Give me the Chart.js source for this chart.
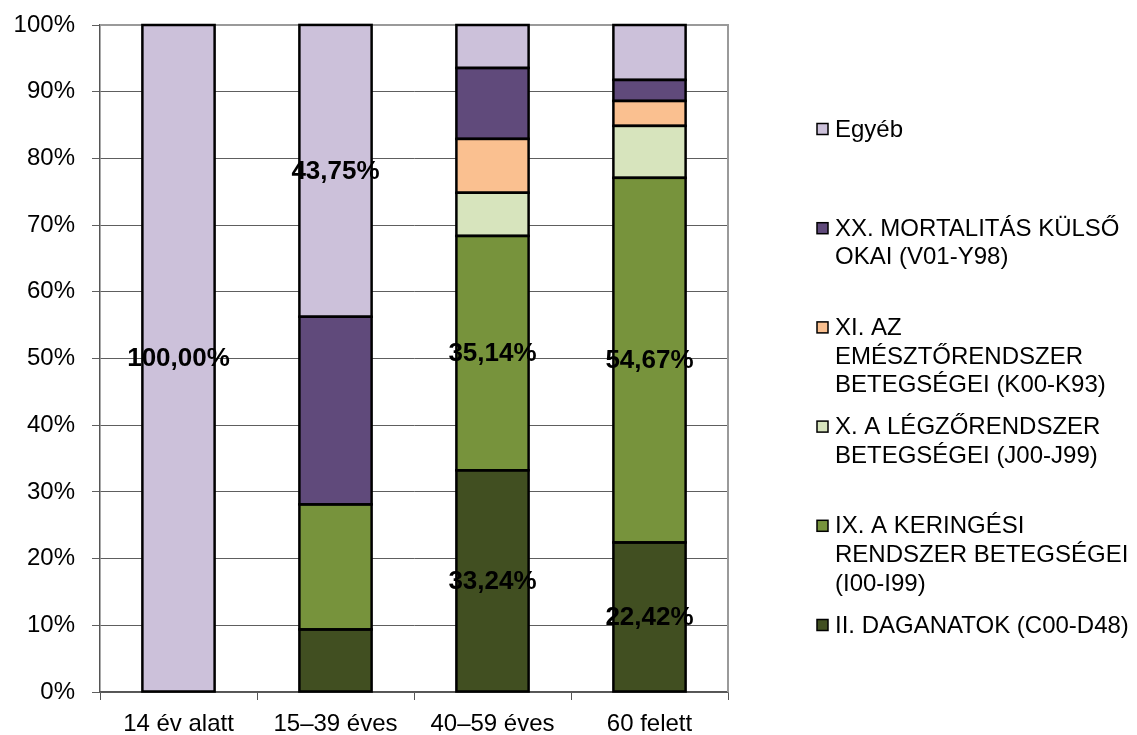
<!DOCTYPE html>
<html lang="hu">
<head>
<meta charset="utf-8">
<title>Halálokok korcsoportonként</title>
<script src="https://cdn.jsdelivr.net/npm/chart.js@4/dist/chart.umd.min.js"></script>
<style>
  html, body { margin: 0; padding: 0; background: #fff; }
  #wrap { position: relative; width: 1137px; height: 735px; }
</style>
</head>
<body>
<div id="wrap"><canvas id="c"></canvas></div>
<script>
// Age groups
const categories = ['14 év alatt', '15–39 éves', '40–59 éves', '60 felett'];

// Share of deaths by cause (%), stacked bottom to top
const daganatok = [0, 9.38, 33.24, 22.42];
const keringesi = [0, 18.75, 35.14, 54.67];
const legzo     = [0, 0, 6.47, 7.79];
const emeszto   = [0, 0, 8.08, 3.74];
const kulso     = [0, 28.13, 10.63, 3.15];
const egyeb     = [100, 43.75, 6.44, 8.23];

// Which segments carry a value label
const labelDaganatok = [false, false, true, true];
const labelKeringesi = [false, false, true, true];
const labelEgyeb     = [true, true, false, false];
const noLabels       = [false, false, false, false];

// Legend text, one entry per line
const nameDaganatok = ['II. DAGANATOK (C00-D48)'];
const nameKeringesi = ['IX. A KERINGÉSI', 'RENDSZER BETEGSÉGEI', '(I00-I99)'];
const nameLegzo     = ['X. A LÉGZŐRENDSZER', 'BETEGSÉGEI (J00-J99)'];
const nameEmeszto   = ['XI. AZ', 'EMÉSZTŐRENDSZER', 'BETEGSÉGEI (K00-K93)'];
const nameKulso     = ['XX. MORTALITÁS KÜLSŐ', 'OKAI (V01-Y98)'];
const nameEgyeb     = ['Egyéb'];

const yTicks = [0, 10, 20, 30, 40, 50, 60, 70, 80, 90, 100];

const FONT = '"Liberation Sans", Arial, sans-serif';

function series(lines, data, color, flags) {
  return {
    label: lines.join(' '),
    nameLines: lines,
    data: data,
    showValue: flags,
    backgroundColor: color,
    borderWidth: 0,
    inflateAmount: 0,
    categoryPercentage: 1.0,
    barPercentage: 0.46
  };
}

const datasets = [
  series(nameDaganatok, daganatok, '#414F21', labelDaganatok),
  series(nameKeringesi, keringesi, '#77933C', labelKeringesi),
  series(nameLegzo,     legzo,     '#D7E4BD', noLabels),
  series(nameEmeszto,   emeszto,   '#FAC090', noLabels),
  series(nameKulso,     kulso,     '#604A7B', noLabels),
  series(nameEgyeb,     egyeb,     '#CCC1DA', labelEgyeb)
];

// Grey frame on the top and right of the plot area
const framePlugin = {
  id: 'frame',
  beforeDatasetsDraw(chart) {
    const { ctx, chartArea: a } = chart;
    ctx.save();
    ctx.strokeStyle = '#9A9A9A';
    ctx.lineWidth = 2;
    ctx.beginPath();
    ctx.moveTo(a.left, a.top);
    ctx.lineTo(a.right, a.top);
    ctx.lineTo(a.right, a.bottom);
    ctx.stroke();
    ctx.restore();
  }
};

// Black outline around every non-empty segment, then the value labels
const segmentPlugin = {
  id: 'segments',
  afterDatasetsDraw(chart) {
    const { ctx } = chart;
    ctx.save();
    ctx.strokeStyle = '#000000';
    ctx.lineWidth = 2.5;
    chart.data.datasets.forEach((ds, i) => {
      chart.getDatasetMeta(i).data.forEach((bar, j) => {
        if (!ds.data[j]) return;
        const p = bar.getProps(['x', 'y', 'base', 'width'], true);
        const top = Math.min(p.y, p.base), h = Math.abs(p.base - p.y);
        ctx.strokeRect(p.x - p.width / 2, top, p.width, h);
      });
    });

    ctx.font = 'bold 26px ' + FONT;
    ctx.fillStyle = '#000000';
    ctx.textAlign = 'center';
    ctx.textBaseline = 'middle';
    chart.data.datasets.forEach((ds, i) => {
      chart.getDatasetMeta(i).data.forEach((bar, j) => {
        if (!ds.showValue[j]) return;
        const txt = ds.data[j].toFixed(2).replace('.', ',') + '%';
        ctx.fillText(txt, bar.x, (bar.y + bar.base) / 2 + 1);
      });
    });
    ctx.restore();
  }
};

// Legend on the right, top entry = top of the stack
const sideLegendPlugin = {
  id: 'sideLegend',
  afterDraw(chart) {
    const { ctx } = chart;
    const items = chart.data.datasets.slice().reverse();
    const boxX = 817, textX = 835, firstY = 129, step = 99.2, lineH = 28.6, box = 11;
    ctx.save();
    ctx.font = '24px ' + FONT;
    ctx.textAlign = 'left';
    ctx.textBaseline = 'middle';
    items.forEach((ds, k) => {
      const y0 = firstY + k * step;
      ctx.fillStyle = ds.backgroundColor;
      ctx.fillRect(boxX, y0 - box / 2, box, box);
      ctx.strokeStyle = '#000000';
      ctx.lineWidth = 1.5;
      ctx.strokeRect(boxX, y0 - box / 2, box, box);
      ctx.fillStyle = '#000000';
      ds.nameLines.forEach((line, n) => {
        ctx.fillText(line, textX, y0 + n * lineH + 1);
      });
    });
    ctx.restore();
  }
};

new Chart(document.getElementById('c'), {
  type: 'bar',
  data: { labels: categories, datasets: datasets },
  options: {
    responsive: true,
    maintainAspectRatio: false,
    animation: false,
    layout: { padding: { top: 25, right: 409, bottom: 0, left: 0 } },
    plugins: {
      legend: { display: false },
      tooltip: { enabled: false }
    },
    scales: {
      x: {
        stacked: true,
        grid: {
          display: true,
          offset: true,
          drawOnChartArea: false,
          drawTicks: true,
          tickLength: 8,
          color: '#555555',
          lineWidth: 1
        },
        border: { display: true, color: '#555555', width: 1.5 },
        ticks: {
          color: '#000000',
          font: { family: FONT, size: 24 },
          padding: 10,
          maxRotation: 0,
          autoSkip: false
        },
        afterFit(scale) { scale.height = 43; }
      },
      y: {
        stacked: true,
        min: 0,
        max: 100,
        afterBuildTicks(scale) { scale.ticks = yTicks.map(v => ({ value: v })); },
        grid: {
          color: '#5E5E5E',
          lineWidth: 1,
          drawTicks: true,
          tickLength: 8
        },
        border: { display: true, color: '#555555', width: 1.5 },
        ticks: {
          color: '#000000',
          font: { family: FONT, size: 24 },
          padding: 17,
          callback: v => v + '%'
        },
        afterFit(scale) {
          scale.width = 100;
          scale.paddingTop = 0;
          scale.paddingBottom = 0;
        }
      }
    }
  },
  plugins: [framePlugin, segmentPlugin, sideLegendPlugin]
});
</script>
</body>
</html>
